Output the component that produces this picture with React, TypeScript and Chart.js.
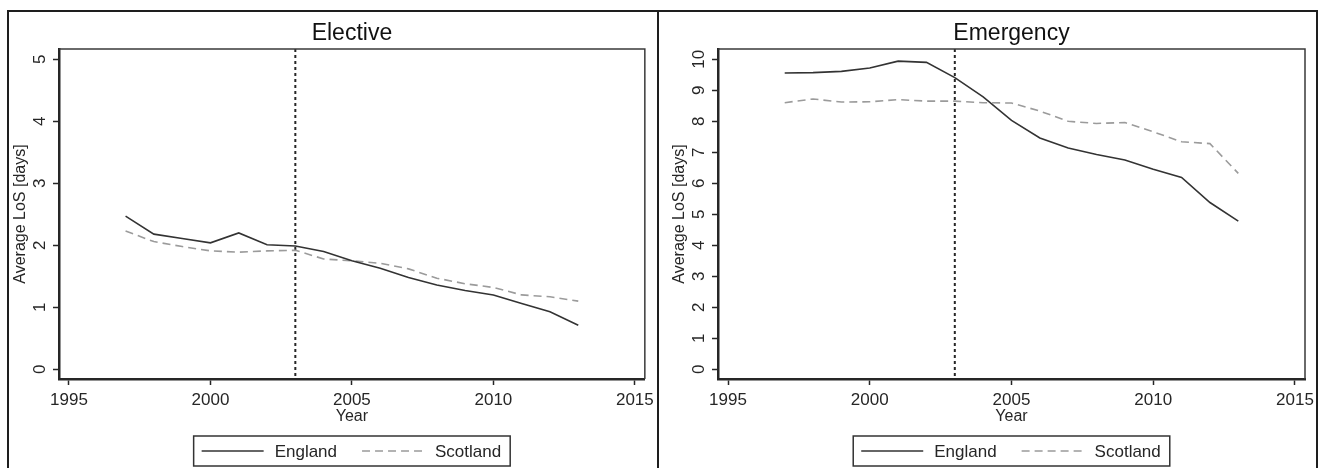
import React, { useEffect, useRef } from "react";
import { Chart, registerables } from "chart.js";

Chart.register(...registerables);

// ---------- data ----------
const years = [1997, 1998, 1999, 2000, 2001, 2002, 2003, 2004, 2005, 2006, 2007, 2008, 2009, 2010, 2011, 2012, 2013];

const electiveEngland = [2.47, 2.18, 2.11, 2.04, 2.2, 2.01, 1.99, 1.9, 1.75, 1.63, 1.48, 1.36, 1.27, 1.2, 1.06, 0.93, 0.71];
const electiveScotland = [2.23, 2.06, 1.98, 1.91, 1.89, 1.91, 1.92, 1.78, 1.75, 1.71, 1.62, 1.47, 1.38, 1.32, 1.2, 1.17, 1.1];

const emergencyEngland = [9.56, 9.57, 9.61, 9.72, 9.94, 9.9, 9.41, 8.79, 8.03, 7.46, 7.14, 6.93, 6.75, 6.45, 6.19, 5.38, 4.78];
const emergencyScotland = [8.6, 8.72, 8.62, 8.63, 8.7, 8.65, 8.65, 8.6, 8.59, 8.33, 8.0, 7.93, 7.96, 7.66, 7.34, 7.28, 6.32];

const seriesNames = ["England", "Scotland"];
const panelTitles = ["Elective", "Emergency"];
const xTicks = [1995, 2000, 2005, 2010, 2015];
const electiveYTicks = [0, 1, 2, 3, 4, 5];
const emergencyYTicks = [0, 1, 2, 3, 4, 5, 6, 7, 8, 9, 10];
const interventionYear = 2003;
const xAxisTitle = "Year";
const yAxisTitle = "Average LoS [days]";

// ---------- styling ----------
const FONT = "'Liberation Sans', Arial, Helvetica, sans-serif";
const INK = "#262626";
const ENGLAND_COLOR = "#333333";
const SCOTLAND_COLOR = "#9b9b9b";
const SCOTLAND_DASH = [8, 5];

type PanelProps = {
  title: string;
  england: number[];
  scotland: number[];
  yTicks: number[];
  yMin: number;
  yMax: number;
  width: number;
  frameLeft: number | null;
};

function Panel({ title, england, scotland, yTicks, yMin, yMax, width, frameLeft }: PanelProps) {
  const ref = useRef<HTMLCanvasElement>(null);

  useEffect(() => {
    const canvas = ref.current!;
    const decor = {
      id: "decor",
      beforeDatasetsDraw(chart: any) {
        const { ctx, chartArea: ca, scales } = chart;
        const x = scales.x.getPixelForValue(interventionYear);
        ctx.save();
        ctx.strokeStyle = INK;
        ctx.lineWidth = 2;
        ctx.setLineDash([3, 3]);
        ctx.beginPath();
        ctx.moveTo(x, ca.top);
        ctx.lineTo(x, ca.bottom);
        ctx.stroke();
        ctx.restore();
      },
      afterDraw(chart: any) {
        const { ctx, chartArea: ca, scales } = chart;
        ctx.save();
        // outer panel frame
        ctx.strokeStyle = "#1e1e1e";
        ctx.lineWidth = 2;
        ctx.beginPath();
        const l = frameLeft === null ? 0 : frameLeft + 1;
        ctx.moveTo(l, 11);
        ctx.lineTo(658, 11);
        ctx.lineTo(658, 480);
        if (frameLeft !== null) {
          ctx.moveTo(frameLeft + 1, 10);
          ctx.lineTo(frameLeft + 1, 480);
        }
        ctx.stroke();
        // plot region box (top & right)
        ctx.strokeStyle = "#3a3a3a";
        ctx.lineWidth = 1.5;
        ctx.beginPath();
        ctx.moveTo(ca.left, ca.top);
        ctx.lineTo(ca.right, ca.top);
        ctx.lineTo(ca.right, ca.bottom);
        ctx.stroke();

        // rotated y tick labels
        ctx.fillStyle = INK;
        ctx.font = `17px ${FONT}`;
        ctx.textAlign = "center";
        ctx.textBaseline = "middle";
        for (const t of scales.y.ticks) {
          const py = scales.y.getPixelForValue(t.value);
          ctx.save();
          ctx.translate(40, py);
          ctx.rotate(-Math.PI / 2);
          ctx.fillText(String(t.value), 0, 0);
          ctx.restore();
        }

        // legend
        const ds = chart.data.datasets;
        ctx.font = `17px ${FONT}`;
        const sample = 62;
        const gapText = 11;
        const gapItem = 25;
        const widths = ds.map((d: any) => ctx.measureText(d.label).width);
        let boxW = 8 + 9;
        ds.forEach((d: any, i: number) => {
          boxW += sample + gapText + widths[i] + (i < ds.length - 1 ? gapItem : 0);
        });
        const cx = (ca.left + ca.right) / 2;
        const bx = cx - boxW / 2;
        const by = ca.bottom + 57;
        const bh = 30;
        ctx.strokeStyle = "#333";
        ctx.lineWidth = 1.5;
        ctx.strokeRect(bx, by, boxW, bh);
        let x = bx + 8;
        const my = by + bh / 2;
        ds.forEach((d: any, i: number) => {
          ctx.save();
          ctx.strokeStyle = d.borderColor;
          ctx.lineWidth = d.borderWidth;
          ctx.setLineDash(d.borderDash || []);
          ctx.beginPath();
          ctx.moveTo(x, my);
          ctx.lineTo(x + sample, my);
          ctx.stroke();
          ctx.restore();
          x += sample + gapText;
          ctx.fillStyle = INK;
          ctx.textAlign = "left";
          ctx.textBaseline = "middle";
          ctx.fillText(d.label, x, my + 1);
          x += widths[i] + gapItem;
        });
        ctx.restore();
      },
    };

    const chart = new Chart(canvas, {
      type: "line",
      data: {
        datasets: [
          {
            label: seriesNames[0],
            data: years.map((y, i) => ({ x: y, y: england[i] })),
            borderColor: ENGLAND_COLOR,
            borderWidth: 1.6,
            pointRadius: 0,
            tension: 0,
            fill: false,
          },
          {
            label: seriesNames[1],
            data: years.map((y, i) => ({ x: y, y: scotland[i] })),
            borderColor: SCOTLAND_COLOR,
            borderWidth: 1.6,
            borderDash: SCOTLAND_DASH,
            pointRadius: 0,
            tension: 0,
            fill: false,
          },
        ],
      },
      options: {
        animation: false,
        responsive: false,
        maintainAspectRatio: false,
        layout: { padding: { top: 10, left: 0, right: width - 646, bottom: 39 } },
        plugins: {
          legend: { display: false },
          tooltip: { enabled: false },
          title: {
            display: true,
            text: title,
            fullSize: false,
            color: "#111",
            font: { family: FONT, size: 23, weight: "normal" },
            padding: { top: 9.7, bottom: 1.7 },
          },
        },
        scales: {
          x: {
            type: "linear",
            min: 1994.647,
            max: 2015.353,
            afterBuildTicks: (s: any) => {
              s.ticks = xTicks.map((v) => ({ value: v }));
            },
            afterFit: (s: any) => {
              s.height = 50;
            },
            ticks: {
              color: INK,
              font: { family: FONT, size: 17 },
              padding: 5,
              maxRotation: 0,
              autoSkip: false,
              callback: (v: any) => String(v),
            },
            grid: { drawOnChartArea: false, drawTicks: true, tickLength: 6, tickColor: INK, tickWidth: 1.5 },
            border: { display: true, color: INK, width: 2.5 },
            title: {
              display: true,
              text: xAxisTitle,
              color: INK,
              font: { family: FONT, size: 16 },
              padding: { top: 0, bottom: 3 },
            },
          },
          y: {
            type: "linear",
            min: yMin,
            max: yMax,
            afterBuildTicks: (s: any) => {
              s.ticks = yTicks.map((v) => ({ value: v }));
            },
            afterFit: (s: any) => {
              s.width = 59;
            },
            ticks: { display: false },
            grid: { drawOnChartArea: false, drawTicks: true, tickLength: 6, tickColor: INK, tickWidth: 1.5 },
            border: { display: true, color: INK, width: 2.5 },
            title: {
              display: true,
              text: yAxisTitle,
              color: INK,
              font: { family: FONT, size: 16 },
              padding: { top: 11, bottom: 0 },
            },
          },
        },
      },
      plugins: [decor],
    } as any);
    return () => chart.destroy();
  }, []);

  return <canvas ref={ref} width={width} height={468} style={{ display: "block" }} />;
}

export default function App() {
  return (
    <div
      style={{
        position: "absolute",
        left: 0,
        top: 0,
        width: 1320,
        height: 468,
        display: "flex",
        background: "#fff",
        overflow: "hidden",
      }}
    >
      <Panel
        title={panelTitles[0]}
        england={electiveEngland}
        scotland={electiveScotland}
        yTicks={electiveYTicks}
        yMin={-0.156}
        yMax={5.166}
        width={659}
        frameLeft={7}
      />
      <Panel
        title={panelTitles[1]}
        england={emergencyEngland}
        scotland={emergencyScotland}
        yTicks={emergencyYTicks}
        yMin={-0.313}
        yMax={10.332}
        width={661}
        frameLeft={null}
      />
    </div>
  );
}
